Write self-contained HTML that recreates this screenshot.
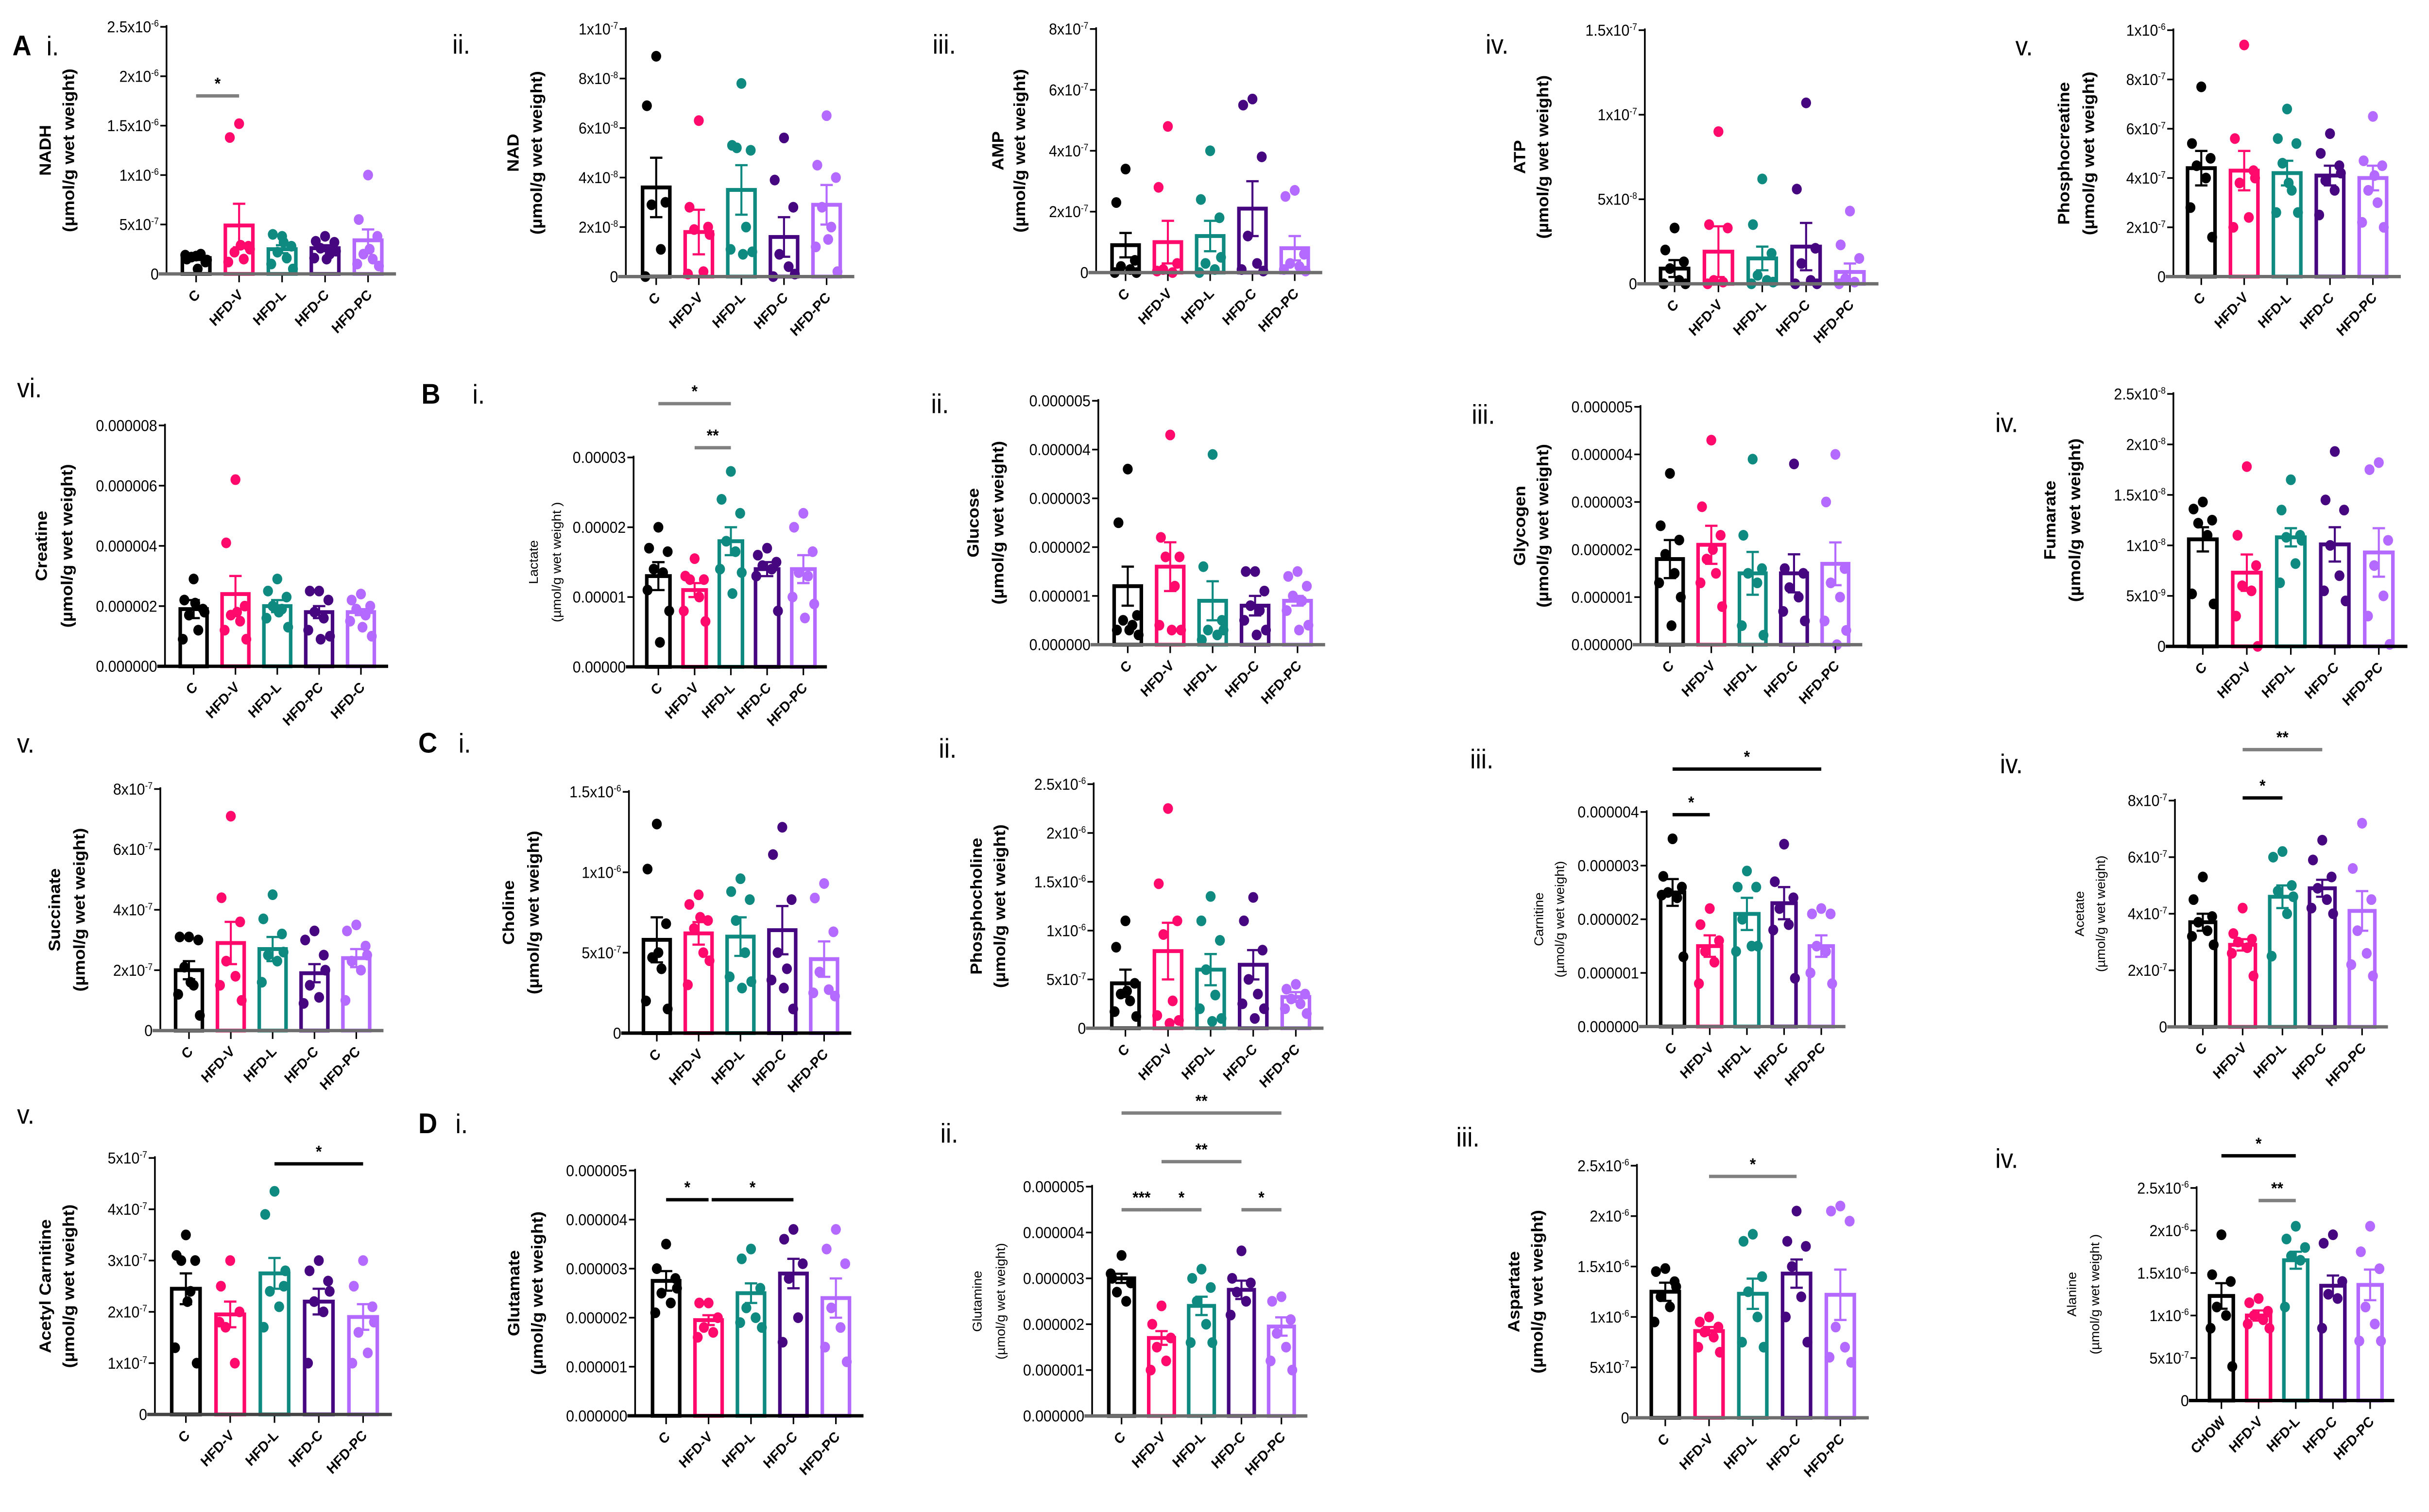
<!DOCTYPE html>
<html><head><meta charset="utf-8"><style>
html,body{margin:0;padding:0;background:#fff;overflow:hidden;width:100%;height:100%;}
svg{display:block;width:100vw;height:100vh;}
text{font-family:"Liberation Sans",Arial,sans-serif;}
</style></head><body>
<svg id="fig" xmlns="http://www.w3.org/2000/svg" viewBox="0 0 1568 902" preserveAspectRatio="none">
<rect x="0" y="0" width="1568" height="902" fill="#fff"/>
</svg>
<script>
const groupsStd = ["C","HFD-V","HFD-L","HFD-C","HFD-PC"];
const groupsCreatine = ["C","HFD-V","HFD-L","HFD-PC","HFD-C"];
const groupsAlanine = ["CHOW","HFD-V","HFD-L","HFD-C","HFD-PC"];

const nadhMean=[1.6,4.9,2.5,2.6,3.4];
const nadhSem=[0.2,2.2,0.4,0.3,1.1];
const nadhPts=[[1.8,1.5,1.2,1.7,2.0,1.9,1.4,0.5],[15.2,13.8,2.8,2.2,1.5,1.2,2.5,2.9],[3.8,4.0,2.8,2.2,1.6,1.0,0.5,3.2],[3.8,3.3,3.2,2.6,2.0,1.6,2.3,1.5],[10,5.5,3.8,2.0,1.5,1.0,0.8,2.5]];

const nadMean=[3.6,1.8,3.5,1.6,2.9];
const nadSem=[1.2,0.9,1.0,0.8,0.8];
const nadPts=[[8.9,6.9,3.0,2.9,1.1,0],[6.3,2.8,2.0,1.9,0.2,0.1,1.7],[7.8,5.3,5.1,5.2,2.0,1.1,1.0,0.9],[5.6,3.9,2.8,0.9,0.4,0,0.1],[6.5,4.5,4.0,2.8,2.0,1.2,0.2,1.5]];

const ampMean=[0.9,1.0,1.2,2.1,0.8];
const ampSem=[0.4,0.7,0.5,0.9,0.4];
const ampPts=[[3.4,2.3,0.4,0.2,0.1,0,0],[4.8,2.8,0.3,0.1,0,0.05],[4.0,2.4,1.8,0.3,0.1,0,0.5],[5.7,5.5,3.8,1.2,0.3,0.1,0.05],[2.7,2.5,0.6,0.3,0.2,0.1,0.05]];

const atpMean=[0.9,1.9,1.5,2.2,0.7];
const atpSem=[0.5,1.5,0.7,1.4,0.5];
const atpPts=[[3.3,2.0,1.3,0.9,0.2,0,0],[9,3.5,3.3,0.2,0.1,0],[6.2,3.5,1.8,0.5,0.2,0,0.1],[10.7,5.6,2.1,1.2,0.2,0,0],[4.3,2.3,1.5,0.3,0.1,0]];

const pcrMean=[4.4,4.3,4.2,4.1,4.0];
const pcrSem=[0.7,0.8,0.5,0.4,0.5];
const pcrPts=[[7.7,5.4,4.8,4.5,4.0,2.8,1.6],[9.4,5.6,4.3,3.8,2.4,2.0,4.0],[6.8,5.6,5.4,4.6,3.5,2.6,2.6,3.8],[5.8,5.0,4.5,3.9,3.5,2.5,4.2],[6.5,4.7,4.5,3.5,3.0,2.2,2.0,4.1]];

const creMean=[1.9,2.4,2.0,1.8,1.8];
const creSem=[0.3,0.6,0.2,0.2,0.1];
const crePts=[[2.9,2.2,1.9,1.7,1.2,0.9,1.8,2.1],[6.2,4.1,2.0,1.7,1.5,1.2,0.9,1.8],[2.9,2.5,2.3,2.0,1.9,1.6,1.3,1.8],[2.5,2.5,2.2,1.8,1.6,1.2,1.0,0.9],[2.4,2.2,2.0,1.9,1.7,1.5,1.0,1.3]];

const lacMean=[1.3,1.1,1.8,1.4,1.4];
const lacSem=[0.2,0.1,0.2,0.1,0.2];
const lacPts=[[2.0,1.7,1.65,1.4,1.35,1.1,0.8,0.35],[1.55,1.3,1.25,1.25,1.0,0.8,0.65],[2.8,2.4,2.2,1.8,1.65,1.4,1.35,1.05],[1.7,1.6,1.5,1.45,1.4,1.3,0.8],[2.2,2.0,1.65,1.35,1.3,1.0,0.9,0.7]];

const gluMean=[1.2,1.6,0.9,0.8,0.9];
const gluSem=[0.4,0.5,0.4,0.2,0.1];
const gluPts=[[3.6,2.5,0.6,0.5,0.4,0.3,0.2,0.3],[4.3,2.2,1.8,1.8,1.2,0.4,0.3,0.3],[3.9,1.6,0.5,0.3,0.2,0.1,0.3],[1.5,1.5,1.1,0.8,0.7,0.5,0.3,0.2],[1.5,1.4,1.2,1.0,0.9,0.7,0.4,0.3]];

const glyMean=[1.8,2.1,1.5,1.5,1.7];
const glySem=[0.4,0.4,0.45,0.4,0.45];
const glyPts=[[3.6,2.5,2.2,1.9,1.5,1.3,1.0,0.4],[4.3,2.9,2.3,1.8,1.5,1.3,0.8,2.0],[3.9,2.3,1.6,1.5,1.3,0.4,0.2],[3.8,1.6,1.5,1.2,1.0,0.7,0.5],[4.0,3.0,1.6,1.3,1.0,0.5,0.3,0]];

const fumMean=[10.6,7.3,10.8,10.1,9.3];
const fumSem=[1.2,1.8,0.9,1.7,2.4];
const fumPts=[[14.3,13.6,12.5,12.2,11.0,5.2,4.2],[17.8,11.0,8.0,6.0,5.5,3.0,0],[16.5,13.5,11,10.8,8.2,6.3,10.5],[19.3,14.5,13.5,10,7.0,5.5,4.5],[18.2,17.5,10.5,8.0,5.0,3.0,0.2]];

const sucMean=[2.0,2.9,2.7,1.9,2.4];
const sucSem=[0.3,0.7,0.4,0.3,0.3];
const sucPts=[[3.1,3.1,3.0,2.1,1.5,1.2,0.5,1.6],[7.1,4.4,3.6,2.3,1.8,1.5,1.0],[4.5,3.7,3.2,2.5,2.3,1.6,2.6],[3.3,3.0,2.5,1.5,1.1,0.9,2.0],[3.5,3.3,2.8,2.3,2.0,1.0,2.5]];

const choMean=[5.8,6.2,6.0,6.4,4.6];
const choSem=[1.4,0.7,1.2,1.5,1.1];
const choPts=[[13.0,10.2,6.8,4.7,4.0,2.0,1.5,5.0],[8.6,8.0,7.0,6.5,5.0,3.0,4.5,7.2],[9.6,8.8,8.3,7.0,5.0,3.5,3.2,2.8],[12.8,11.1,8.3,5.0,4.0,3.3,1.5,2.8],[9.3,8.4,6.3,3.8,2.7,2.5,2.3]];

const pchMean=[4.6,7.9,6.0,6.5,3.2];
const pchSem=[1.4,2.9,1.6,1.5,0.5];
const pchPts=[[11,8.3,4.6,3.5,2.8,1.7,1.2,3.8],[22.5,14.8,11,9.6,2.8,1.3,0.8,0.5],[13.5,11,9,6,3.4,2.0,1.0,0.7],[13.4,11,8,5,3.5,2.5,2.0,1.0],[4.5,4.0,3.5,3.0,2.5,2.0,1.5]];

const carMean=[2.5,1.5,2.1,2.3,1.5];
const carSem=[0.25,0.2,0.3,0.3,0.2];
const carPts=[[3.5,2.8,2.6,2.5,2.4,2.45,1.3],[2.2,1.9,1.6,1.4,1.2,0.8],[2.9,2.6,2.6,2.0,1.5,1.4,1.5],[3.4,2.7,2.4,2.2,1.9,1.8,0.9],[2.2,2.1,2.1,1.5,1.4,1.0,0.8]];

const aceMean=[3.7,2.9,4.6,4.9,4.1];
const aceSem=[0.3,0.2,0.4,0.3,0.7];
const acePts=[[5.3,4.5,3.9,3.7,3.4,3.2,2.9],[4.2,3.3,3.1,3.0,2.8,2.6,1.8],[6.2,6.0,5.0,4.8,4.0,2.5,4.6],[6.6,5.9,5.3,4.9,4.5,4.2,4.0],[7.2,5.6,4.5,3.4,2.6,2.2,1.8]];

const acMean=[2.45,1.95,2.75,2.2,1.9];
const acSem=[0.3,0.25,0.3,0.25,0.25];
const acPts=[[3.5,3.1,3.0,3.0,2.4,1.3,1.0,2.2],[3.0,2.5,2.0,1.7,1.0,1.8],[4.35,3.9,2.5,2.4,2.1,1.7,2.8],[3.0,2.8,2.6,2.2,2.0,1.0,2.4],[3.0,2.5,2.1,1.6,1.2,1.0,1.8]];

const gltMean=[2.75,1.95,2.5,2.9,2.4];
const gltSem=[0.2,0.1,0.2,0.3,0.4];
const gltPts=[[3.5,3.0,2.8,2.5,2.3,2.1,2.6],[2.3,2.3,2.0,1.8,1.7,1.6],[3.4,3.2,2.6,2.2,2.0,1.9,1.8],[3.8,3.6,3.1,2.8,2.0,1.5],[3.8,3.4,3.1,2.2,1.8,1.4,1.1]];

const glnMean=[3.0,1.7,2.4,2.75,1.95];
const glnSem=[0.1,0.15,0.2,0.2,0.2];
const glnPts=[[3.5,3.0,2.9,2.7,2.5,3.1],[2.4,2.0,1.7,1.5,1.2,1.0],[3.2,3.0,2.8,2.5,2.0,1.6,1.6],[3.6,3.0,2.9,2.7,2.5,2.2],[2.6,2.5,2.1,1.8,1.5,1.2,1.0]];

const aspMean=[12.5,8.6,12.3,14.3,12.2];
const aspSem=[0.9,0.4,1.5,1.4,2.5];
const aspPts=[[14.8,14.5,13.5,12,11,9.5,13],[10,9.5,9.0,8.5,8.0,7.0,6.5],[18.2,17.5,14.0,12.5,10,7.5,7.0],[20.5,17.5,17.0,15,12,10,7.5],[21,20.5,19.5,9,7,6,5.5]];

const alaMean=[12.3,10,16.5,13.5,13.6];
const alaSem=[1.5,0.6,1.0,1.2,1.8];
const alaPts=[[19.5,14.8,14.0,11,10,8.5,4.0],[12,11.5,10.5,10,9.5,9,8.5],[20.5,19,18,17,16.5,11],[19.5,18.5,14,12.5,12,8.5],[20.5,17.5,15.5,11,9,7,7]];

const tkE25=[0,5,10,15,20,25];
const lbE7_6=["0","5x10|-7","1x10|-6","1.5x10|-6","2x10|-6","2.5x10|-6"];
const tkNad=[0,2,4,6,8,10];
const lbNad=["0","2x10|-8","4x10|-8","6x10|-8","8x10|-8","1x10|-7"];
const tk8=[0,2,4,6,8];
const lb8=["0","2x10|-7","4x10|-7","6x10|-7","8x10|-7"];
const tkAtp=[0,5,10,15];
const lbAtp=["0","5x10|-8","1x10|-7","1.5x10|-7"];
const tk10=[0,2,4,6,8,10];
const lbPcr=["0","2x10|-7","4x10|-7","6x10|-7","8x10|-7","1x10|-6"];
const lbCre=["0.000000","0.000002","0.000004","0.000006","0.000008"];
const tk3=[0,1,2,3];
const lbLac=["0.00000","0.00001","0.00002","0.00003"];
const tk5=[0,1,2,3,4,5];
const lbDec5=["0.000000","0.000001","0.000002","0.000003","0.000004","0.000005"];
const lbFum=["0","5x10|-9","1x10|-8","1.5x10|-8","2x10|-8","2.5x10|-8"];
const tkCho=[0,5,10,15];
const lbCho=["0","5x10|-7","1x10|-6","1.5x10|-6"];
const tk4=[0,1,2,3,4];
const lbDec4=["0.000000","0.000001","0.000002","0.000003","0.000004"];
const lbAc=["0","1x10|-7","2x10|-7","3x10|-7","4x10|-7","5x10|-7"];

const COLORS=["#000000","#ff0a6c","#0f8a80","#46067f","#b469ff"];
const GRAY="#808080";
const panels=[
 {id:"nadh",m:nadhMean,s:nadhSem,p:nadhPts,cats:groupsStd,ax:107.5,top:16,zero:163.4,c0:126.6,sp:27.75,ymax:25,tk:tkE25,lb:lbE7_6,t1:"NADH",t2:"(µmol/g wet weight)",tx1:30,tx2:45,sig:[[0,1,57.2,"*",GRAY]]},
 {id:"nad",m:nadMean,s:nadSem,p:nadPts,cats:groupsStd,ax:404,top:17.3,zero:165,c0:423.6,sp:27.5,ymax:10,tk:tkNad,lb:lbNad,t1:"NAD",t2:"(µmol/g wet weight)",tx1:332,tx2:347,sig:[]},
 {id:"amp",m:ampMean,s:ampSem,p:ampPts,cats:groupsStd,ax:707.6,top:17.3,zero:162.6,c0:726.6,sp:27.3,ymax:8,tk:tk8,lb:lb8,t1:"AMP",t2:"(µmol/g wet weight)",tx1:645,tx2:659,sig:[]},
 {id:"atp",m:atpMean,s:atpSem,p:atpPts,cats:groupsStd,ax:1061.8,top:18,zero:169.3,c0:1081,sp:28.3,ymax:15,tk:tkAtp,lb:lbAtp,t1:"ATP",t2:"(µmol/g wet weight)",tx1:981.7,tx2:996.7,sig:[]},
 {id:"phosphocreatine",m:pcrMean,s:pcrSem,p:pcrPts,cats:groupsStd,ax:1403,top:18,zero:165,c0:1421,sp:27.7,ymax:10,tk:tk10,lb:lbPcr,t1:"Phosphocreatine",t2:"(µmol/g wet weight)",tx1:1333,tx2:1349,sig:[]},
 {id:"creatine",m:creMean,s:creSem,p:crePts,cats:groupsCreatine,ax:106.5,top:253.8,zero:397.5,c0:125,sp:27,ymax:8,tk:tk8,lb:lbCre,t1:"Creatine",t2:"(µmol/g wet weight)",tx1:27.5,tx2:44,sig:[],base:"#000"},
 {id:"lactate",m:lacMean,s:lacSem,p:lacPts,cats:groupsStd,ax:409,top:272.9,zero:397.8,c0:425,sp:23.4,ymax:3,tk:tk3,lb:lbLac,t1:"Lactate",t2:"(µmol/g wet weight )",tx1:345,tx2:360,small:true,sig:[[0,2,240.8,"*",GRAY],[1,2,267.1,"**",GRAY]],base:"#000"},
 {id:"glucose",m:gluMean,s:gluSem,p:gluPts,cats:groupsStd,ax:709,top:239.1,zero:384.6,c0:728,sp:27.4,ymax:5,tk:tk5,lb:lbDec5,t1:"Glucose",t2:"(µmol/g wet weight)",tx1:629,tx2:645,sig:[]},
 {id:"glycogen",m:glyMean,s:glySem,p:glyPts,cats:groupsStd,ax:1059,top:242.7,zero:384.6,c0:1078,sp:26.7,ymax:5,tk:tk5,lb:lbDec5,t1:"Glycogen",t2:"(µmol/g wet weight)",tx1:981.7,tx2:996.7,sig:[]},
 {id:"fumarate",m:fumMean,s:fumSem,p:fumPts,cats:groupsStd,ax:1403,top:235,zero:385.6,c0:1422,sp:28.4,ymax:25,tk:tkE25,lb:lbFum,t1:"Fumarate",t2:"(µmol/g wet weight)",tx1:1324,tx2:1340,sig:[],base:"#000"},
 {id:"succinate",m:sucMean,s:sucSem,p:sucPts,cats:groupsStd,ax:103.5,top:470.7,zero:614.8,c0:122,sp:27,ymax:8,tk:tk8,lb:lb8,t1:"Succinate",t2:"(µmol/g wet weight)",tx1:36,tx2:52,sig:[]},
 {id:"choline",m:choMean,s:choSem,p:choPts,cats:groupsStd,ax:406,top:472.4,zero:616.3,c0:424,sp:27,ymax:15,tk:tkCho,lb:lbCho,t1:"Choline",t2:"(µmol/g wet weight)",tx1:329,tx2:345,sig:[],base:"#000"},
 {id:"phosphocholine",m:pchMean,s:pchSem,p:pchPts,cats:groupsStd,ax:706,top:467.8,zero:613.4,c0:726.5,sp:27.5,ymax:25,tk:tkE25,lb:lbE7_6,t1:"Phosphocholine",t2:"(µmol/g wet weight)",tx1:631,tx2:646,sig:[]},
 {id:"carnitine",m:carMean,s:carSem,p:carPts,cats:groupsStd,ax:1063,top:484.4,zero:612.4,c0:1079.7,sp:24,ymax:4,tk:tk4,lb:lbDec4,t1:"Carnitine",t2:"(µmol/g wet weight)",tx1:994,tx2:1007.5,small:true,sig:[[0,1,486,"*","#000"],[0,4,458.8,"*","#000"]]},
 {id:"acetate",m:aceMean,s:aceSem,p:acePts,cats:groupsStd,ax:1404,top:477.6,zero:612.6,c0:1422,sp:25.7,ymax:8,tk:tk8,lb:lb8,t1:"Acetate",t2:"(µmol/g wet weight)",tx1:1343,tx2:1356.7,small:true,sig:[[1,2,476,"*","#000"],[1,3,447.2,"**",GRAY]]},
 {id:"acetyl-carnitine",m:acMean,s:acSem,p:acPts,cats:groupsStd,ax:100,top:690.8,zero:843.8,c0:120,sp:28.6,ymax:5,tk:tk5,lb:lbAc,t1:"Acetyl Carnitine",t2:"(µmol/g wet weight)",tx1:30,tx2:45,sig:[[2,4,694.3,"*","#000"]],base:"#444"},
 {id:"glutamate",m:gltMean,s:gltSem,p:gltPts,cats:groupsStd,ax:410,top:698.3,zero:844.6,c0:430,sp:27.4,ymax:5,tk:tk5,lb:lbDec5,t1:"Glutamate",t2:"(µmol/g wet weight)",tx1:332.5,tx2:347.5,sig:[[0,1,715.7,"*","#000"],[1,3,715.7,"*","#000"]],base:"#000"},
 {id:"glutamine",m:glnMean,s:glnSem,p:glnPts,cats:groupsStd,ax:705,top:707.9,zero:844.7,c0:724,sp:25.8,ymax:5,tk:tk5,lb:lbDec5,t1:"Glutamine",t2:"(µmol/g wet weight)",tx1:631.5,tx2:646.5,small:true,sig:[[0,4,664,"**",GRAY],[1,3,693,"**",GRAY],[0,1,721.7,"***",GRAY],[1,2,721.7,"*",GRAY],[3,4,721.7,"*",GRAY]]},
 {id:"aspartate",m:aspMean,s:aspSem,p:aspPts,cats:groupsStd,ax:1056.7,top:695.4,zero:845.8,c0:1075,sp:28.25,ymax:25,tk:tkE25,lb:lbE7_6,t1:"Aspartate",t2:"(µmol/g wet weight)",tx1:978,tx2:993,sig:[[1,3,701.8,"*",GRAY]]},
 {id:"alanine",m:alaMean,s:alaSem,p:alaPts,cats:groupsAlanine,ax:1418,top:708.7,zero:835.5,c0:1434,sp:24,ymax:25,tk:tkE25,lb:lbE7_6,t1:"Alanine",t2:"(µmol/g wet weight )",tx1:1338,tx2:1353,small:true,sig:[[0,2,689.5,"*","#000"],[1,2,716.2,"**",GRAY]],base:"#000"}
];
const letters=[
 ["A",8,33,"panel-letter-a"],["B",272,240.8,"panel-letter-b"],["C",270,449,"panel-letter-c"],["D",270,676,"panel-letter-d"]
];
const romans=[
 ["i.",30,33],["ii.",292,32],["iii.",602,32],["iv.",959,32],["v.",1301,33],
 ["vi.",11,237],["i.",305,240.8],["ii.",601,246.5],["iii.",950,252.8],["iv.",1288,257.7],
 ["v.",11,449],["i.",296,449],["ii.",606,452],["iii.",949,458.4],["iv.",1291,461.3],
 ["v.",11,670.4],["i.",294,676],["ii.",607,681.6],["iii.",940,684],["iv.",1288,696.7]
];
const JIT=[0,-6,6,-3,3,-7,7,1];

const NS="http://www.w3.org/2000/svg";
const svg=document.getElementById("fig");
function mk(tag,attrs,parent){const e=document.createElementNS(NS,tag);for(const k in attrs)e.setAttribute(k,attrs[k]);(parent||svg).appendChild(e);return e;}
function setLabel(el,str){const parts=str.split("|");el.textContent="";const t1=document.createElementNS(NS,"tspan");t1.textContent=parts[0];el.appendChild(t1);if(parts[1]){const t2=document.createElementNS(NS,"tspan");t2.setAttribute("dy","-3.5");t2.setAttribute("font-size","5.5");t2.textContent=parts[1];el.appendChild(t2);}}

letters.forEach(L=>{
 const t=mk("text",{x:L[1],y:L[2],"font-size":17,"font-weight":"bold",fill:"#000"});
 t.textContent=L[0];
 
 
});
romans.forEach(R=>{
 const t=mk("text",{x:R[1],y:R[2],"font-size":16,fill:"#000"});
 t.textContent=R[0];
 
 
});

panels.forEach(P=>{
 const g=mk("g",{});
 
 
 const yS=v=>P.zero-v/P.ymax*(P.zero-P.top);
 const xS=i=>P.c0+i*P.sp;
 const bw=P.sp*0.64;
 const xEnd=xS(4)+P.sp*0.65;
 P.tk.forEach((v,i)=>{
  const y=yS(v);
  const tl=mk("line",{x1:P.ax-4,x2:P.ax,y1:y,y2:y,stroke:"#000","stroke-width":1},g);
  
  
  const t=mk("text",{x:P.ax-5,y:y+3.3,"font-size":9.5,"text-anchor":"end",fill:"#000"},g);
  setLabel(t,P.lb[i]);
  
  
 });
 const ya=mk("line",{x1:P.ax,x2:P.ax,y1:P.top-1,y2:P.zero,stroke:"#000","stroke-width":1.1},g);
 
 
 const cy=(P.top+P.zero)/2;
 const fs=P.small?8:10.5, fw=P.small?"normal":"bold";
 const t1=mk("text",{x:P.tx1,y:cy,"font-size":fs,"font-weight":fw,"text-anchor":"middle","dominant-baseline":"middle",transform:`rotate(-90 ${P.tx1} ${cy})`,fill:"#000"},g);
 t1.textContent=P.t1;
 
 
 const t2=mk("text",{x:P.tx2,y:cy,"font-size":fs,"font-weight":fw,"text-anchor":"middle","dominant-baseline":"middle",transform:`rotate(-90 ${P.tx2} ${cy})`,fill:"#000"},g);
 t2.textContent=P.t2;
 
 
 P.m.forEach((mv,i)=>{
  const cx=xS(i), col=COLORS[i], yt=yS(mv);
  const r=mk("rect",{x:cx-bw/2,y:yt,width:bw,height:P.zero-yt,fill:"#fff",stroke:col,"stroke-width":2.3},g);
  
  
  P.p[i].forEach((pv,j)=>{
   const c=mk("circle",{cx:cx+JIT[j%JIT.length],cy:yS(pv),r:3.2,fill:col},g);
   
   
  });
  const yu=yS(mv+P.s[i]), yd=yS(mv-P.s[i]);
  const e=mk("path",{d:`M${cx},${yd}V${yu}M${cx-4},${yu}H${cx+4}M${cx-4},${yd}H${cx+4}`,stroke:col,"stroke-width":1.3,fill:"none"},g);
  
  
  const xt=mk("line",{x1:cx,x2:cx,y1:P.zero,y2:P.zero+5,stroke:"#000","stroke-width":1},g);
  
  
  const lx=cx+3, ly=P.zero+13;
  const ct=mk("text",{x:lx,y:ly,"font-size":8.6,"font-weight":"bold","text-anchor":"end",transform:`rotate(-45 ${lx} ${ly})`,fill:"#000"},g);
  ct.textContent=P.cats[i];
  
  
 });
 const xa=mk("line",{x1:P.ax-5,x2:xEnd,y1:P.zero,y2:P.zero,stroke:P.base||"#6e6e6e","stroke-width":2},g);
 
 
 P.sig.forEach(S=>{
  const x1=xS(S[0])+(S[0]===1&&P.id==="glutamate"?2:0), x2=xS(S[1]);
  const l=mk("line",{x1:x1,x2:x2,y1:S[2],y2:S[2],stroke:S[4],"stroke-width":2},g);
  
  
  const st=mk("text",{x:(x1+x2)/2,y:S[2]-4,"font-size":10,"font-weight":"bold","text-anchor":"middle",fill:"#000"},g);
  st.textContent=S[3];
  
  
 });
});
</script>
</body></html>
